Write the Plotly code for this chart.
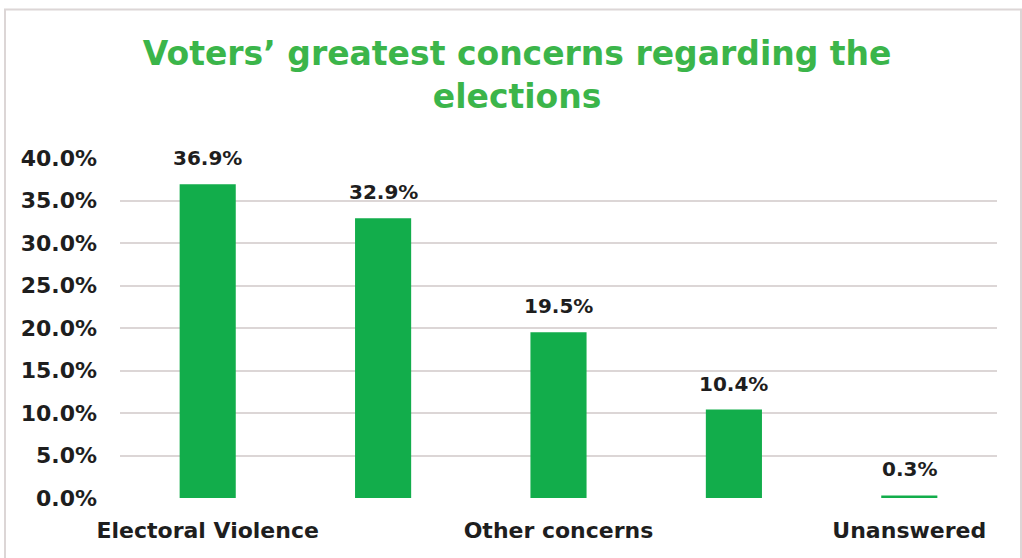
import plotly.graph_objects as go

# Survey responses (share of voters), in axis order
categories = ["Electoral Violence", "", "Other concerns", "", "Unanswered"]
shares = [36.9, 32.9, 19.5, 10.4, 0.3]
y_ticks = [0, 5, 10, 15, 20, 25, 30, 35, 40]
y_tick_labels = [f"{v:.1f}%" for v in y_ticks]

positions = list(range(len(categories)))
shown = [i for i, c in enumerate(categories) if c]

GREEN = "#12ad4b"
TEXT = "#1e1e1e"
FONT = "DejaVu Sans"

fig = go.Figure(
    go.Bar(
        x=positions,
        y=shares,
        width=0.32,
        marker=dict(color=GREEN, line=dict(width=0)),
        hoverinfo="x+y",
    )
)

# value labels above each bar
for xi, v in zip(positions, shares):
    fig.add_annotation(
        x=xi,
        y=v,
        text=f"{v:.1f}%",
        showarrow=False,
        yanchor="middle",
        yshift=26,
        font=dict(family=FONT, size=20, color=TEXT, weight="bold"),
    )

W, H = 1022, 558
L, R, T, B = 120, 25, 158, 60
pw, ph = W - L - R, H - T - B

def px_x(p):
    return (p - L) / pw

def px_y(p):
    return (H - B - p) / ph

fig.update_layout(
    width=W,
    height=H,
    margin=dict(l=L, r=R, t=T, b=B),
    paper_bgcolor="white",
    plot_bgcolor="white",
    showlegend=False,
    title=dict(
        text="Voters’ greatest concerns regarding the<br>elections",
        x=0.506,
        xanchor="center",
        y=1 - 65 / H,
        yanchor="top",
        font=dict(family=FONT, size=33, color="#3bb54a", weight="bold"),
    ),
    xaxis=dict(
        range=[-0.5, len(categories) - 0.5],
        tickvals=shown,
        ticktext=[categories[i] for i in shown],
        tickfont=dict(family=FONT, size=22, color=TEXT, weight="bold"),
        showgrid=False,
        zeroline=False,
        showline=False,
        ticks="",
        ticklabelstandoff=17,
    ),
    yaxis=dict(
        range=[0, 40],
        tickvals=y_ticks,
        ticktext=y_tick_labels,
        tickfont=dict(family=FONT, size=22, color=TEXT, weight="bold"),
        showgrid=True,
        gridcolor="#dcd6d6",
        gridwidth=1.5,
        zeroline=False,
        showline=False,
        ticks="",
        ticklabelstandoff=22,
    ),
    shapes=[
        dict(
            type="rect",
            xref="paper",
            yref="paper",
            x0=px_x(5),
            x1=px_x(1021),
            y0=px_y(560),
            y1=px_y(9.5),
            line=dict(color="#dcd6d6", width=2),
            fillcolor="rgba(0,0,0,0)",
            layer="below",
        )
    ],
)

fig.write_html("out.html")
